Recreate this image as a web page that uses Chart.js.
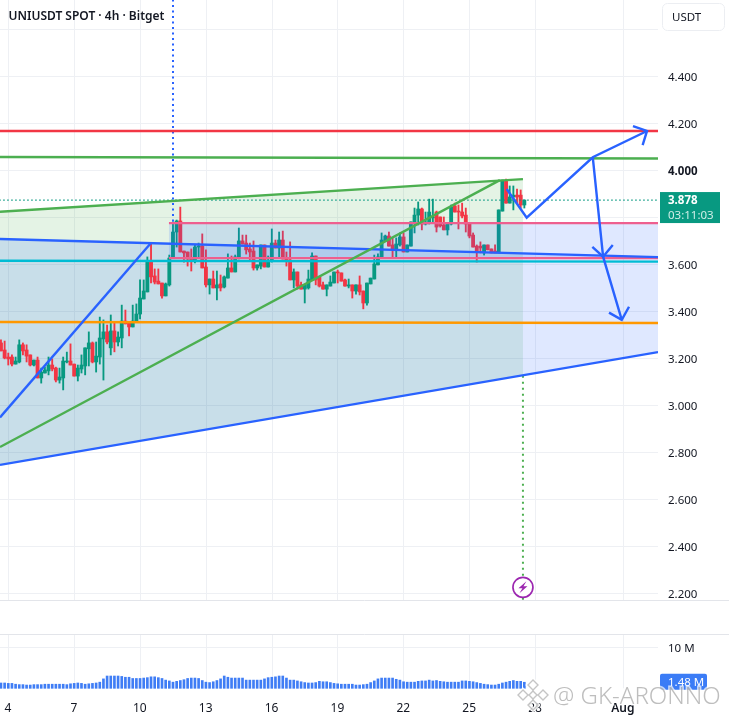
<!DOCTYPE html>
<html><head><meta charset="utf-8">
<style>html,body{margin:0;padding:0;background:#fff}canvas{display:block}</style>
<script src="https://cdn.jsdelivr.net/npm/chart.js@4"></script>
</head><body>
<canvas id="c" width="729" height="722"></canvas>
<script>
const title = "UNIUSDT SPOT · 4h · Bitget";
const currency = "USDT";
const lastPrice = "3.878";
const countdown = "03:11:03";
const lastVolume = "1.48 M";
const watermark = "@ GK-ARONNO";
const xTickDays = [4,7,10,13,16,19,22,25,28,32];
const xTickLabels = {32:"Aug"};
const priceTicks = [2.2,2.4,2.6,2.8,3.0,3.2,3.4,3.6,3.8,4.0,4.2,4.4,4.6];
const hiddenPriceLabels = [3.8,4.6];
const firstCandleDay = 3.68;
const candlesPerDay = 6;

const opens = [3.265,3.235,3.205,3.205,3.175,3.184,3.257,3.235,3.214,3.171,
3.192,3.116,3.137,3.146,3.171,3.158,3.107,3.116,3.184,3.188,
3.175,3.124,3.154,3.167,3.240,3.265,3.184,3.205,3.282,3.312,
3.244,3.316,3.269,3.286,3.358,3.354,3.333,3.354,3.388,3.452,
3.482,3.614,3.550,3.528,3.520,3.465,3.512,3.626,3.737,3.784,
3.656,3.652,3.626,3.614,3.673,3.677,3.588,3.512,3.537,3.499,
3.516,3.503,3.541,3.584,3.567,3.626,3.699,3.690,3.665,3.656,
3.584,3.592,3.682,3.588,3.614,3.690,3.669,3.703,3.626,3.618,
3.533,3.567,3.512,3.494,3.499,3.533,3.635,3.546,3.512,3.494,
3.507,3.520,3.567,3.563,3.533,3.507,3.512,3.486,3.512,3.486,
3.435,3.516,3.537,3.597,3.626,3.699,3.720,3.682,3.661,3.682,
3.716,3.652,3.677,3.775,3.809,3.835,3.771,3.780,3.797,3.822,
3.801,3.767,3.746,3.771,3.848,3.826,3.822,3.809,3.775,3.724,
3.677,3.677,3.648,3.682,3.665,3.656,3.648,3.826,3.954,3.860,
3.886,3.894,3.894,3.852];
const highs = [3.278,3.273,3.222,3.214,3.205,3.278,3.265,3.257,3.214,3.192,
3.205,3.158,3.162,3.205,3.197,3.162,3.158,3.205,3.226,3.261,
3.175,3.171,3.214,3.244,3.312,3.269,3.269,3.375,3.363,3.341,
3.384,3.354,3.312,3.426,3.405,3.354,3.426,3.431,3.533,3.533,
3.631,3.690,3.580,3.580,3.520,3.520,3.639,3.780,3.788,3.843,
3.656,3.652,3.665,3.682,3.690,3.729,3.661,3.537,3.571,3.571,
3.554,3.550,3.644,3.635,3.639,3.754,3.724,3.724,3.690,3.699,
3.597,3.682,3.682,3.635,3.750,3.703,3.737,3.741,3.652,3.695,
3.580,3.567,3.524,3.512,3.575,3.648,3.635,3.546,3.524,3.512,
3.550,3.567,3.575,3.563,3.537,3.537,3.512,3.512,3.550,3.486,
3.520,3.541,3.639,3.644,3.733,3.724,3.737,3.712,3.712,3.733,
3.733,3.682,3.780,3.839,3.865,3.839,3.822,3.877,3.877,3.826,
3.801,3.801,3.775,3.852,3.860,3.852,3.860,3.839,3.775,3.733,
3.682,3.695,3.682,3.682,3.665,3.682,3.831,3.958,3.962,3.933,
3.933,3.920,3.916,3.873];
const lows = [3.231,3.197,3.171,3.167,3.175,3.180,3.214,3.184,3.167,3.167,
3.116,3.094,3.137,3.129,3.146,3.099,3.094,3.065,3.180,3.171,
3.124,3.103,3.137,3.129,3.167,3.180,3.141,3.175,3.107,3.261,
3.214,3.227,3.252,3.244,3.346,3.295,3.333,3.354,3.367,3.452,
3.482,3.520,3.516,3.516,3.456,3.465,3.507,3.626,3.673,3.652,
3.609,3.592,3.571,3.605,3.626,3.584,3.503,3.473,3.499,3.448,
3.486,3.499,3.541,3.567,3.567,3.622,3.686,3.643,3.618,3.575,
3.575,3.580,3.588,3.588,3.609,3.669,3.631,3.622,3.592,3.533,
3.499,3.494,3.494,3.435,3.494,3.533,3.512,3.503,3.494,3.465,
3.507,3.520,3.520,3.528,3.507,3.499,3.456,3.473,3.469,3.410,
3.426,3.516,3.537,3.597,3.626,3.699,3.677,3.626,3.626,3.677,
3.652,3.652,3.677,3.733,3.767,3.746,3.767,3.771,3.780,3.737,
3.758,3.746,3.724,3.767,3.822,3.750,3.797,3.737,3.712,3.673,
3.609,3.648,3.639,3.661,3.648,3.648,3.648,3.826,3.860,3.860,
3.831,3.860,3.839,3.839];
const closes = [3.231,3.201,3.197,3.175,3.188,3.257,3.231,3.209,3.171,3.192,
3.116,3.141,3.150,3.171,3.154,3.107,3.120,3.188,3.188,3.171,
3.124,3.158,3.171,3.244,3.265,3.184,3.209,3.286,3.312,3.269,
3.316,3.269,3.290,3.358,3.346,3.333,3.358,3.388,3.456,3.486,
3.614,3.546,3.524,3.516,3.465,3.516,3.626,3.737,3.784,3.652,
3.648,3.622,3.614,3.673,3.677,3.584,3.512,3.537,3.499,3.512,
3.499,3.546,3.584,3.567,3.631,3.699,3.686,3.661,3.652,3.584,
3.597,3.682,3.588,3.614,3.690,3.669,3.703,3.622,3.618,3.533,
3.567,3.507,3.494,3.512,3.537,3.635,3.533,3.507,3.494,3.512,
3.524,3.567,3.563,3.528,3.507,3.512,3.486,3.512,3.482,3.435,
3.520,3.541,3.601,3.631,3.703,3.720,3.677,3.661,3.686,3.716,
3.652,3.682,3.780,3.809,3.835,3.771,3.780,3.822,3.801,3.758,
3.763,3.746,3.775,3.843,3.822,3.822,3.805,3.771,3.720,3.673,
3.652,3.669,3.682,3.661,3.648,3.648,3.831,3.958,3.860,3.886,
3.894,3.886,3.852,3.873];
const volumes = [1.3,1.3,1.2,1.2,1.0,0.9,0.9,0.8,0.8,0.9,0.9,
0.9,1.0,1.0,1.0,1.0,1.0,1.0,0.9,1.1,1.2,
1.3,1.2,1.0,1.1,1.2,1.3,1.5,2.3,
3.0,3.0,3.0,3.0,2.9,2.7,2.7,2.4,
2.4,2.4,2.5,2.6,2.8,2.8,2.6,2.4,2.0,1.8,1.5,1.7,1.9,
2.1,2.4,2.5,2.5,2.4,1.9,1.5,1.4,1.6,
1.9,2.3,3.0,2.7,2.5,2.5,2.5,2.5,2.0,
2.0,2.0,2.0,2.0,2.3,2.6,2.7,2.8,3.0,3.0,
2.5,2.0,2.0,1.8,1.6,1.4,1.3,1.3,1.4,1.7,1.6,1.6,1.4,
1.2,1.1,1.0,1.0,1.0,1.0,0.8,0.8,0.9,1.0,1.4,1.8,
2.3,2.5,2.5,2.5,2.5,2.2,2.0,1.6,1.5,1.5,1.5,
1.7,1.8,1.8,2.0,1.8,1.9,1.7,1.6,1.5,1.5,1.5,1.5,1.8,1.8,
1.7,1.6,1.4,1.2,1.0,0.9,0.8,0.8,1.0,
1.3,1.5,1.7,1.9,1.7,1.7,1.48];

/* drawings, [day, price] */
const redLevel = [[3.6,4.167],[34,4.167]];
const greenLevel = [[3.6,4.056],[34,4.050]];
const cyanLevel = [[3.6,3.615],[34,3.611]];
const orangeLevel = [[3.6,3.354],[34,3.350]];
const lastPriceLine = [[3.6,3.873],[34,3.873]];
const wedgeTop = [[3.636,3.823],[27.45,3.962]];
const wedgeDiagonal = [[3.636,2.822],[26.40,3.958]];
const channelUpper = [[3.636,3.707],[33.6,3.630]];
const channelLower = [[3.636,2.746],[33.6,3.226]];
const greenZone = [[3.636,3.823],[27.45,3.962],[27.45,3.128],[3.636,2.746]];
const blueZone = [[3.636,3.707],[34,3.628],[34,3.235],[3.636,2.746]];
const pinkBox = [[11.33,3.775],[34,3.775],[34,3.626],[11.33,3.626]];
const blueRally = [[3.636,2.948],[10.51,3.690]];
const pathMain = [[26.71,3.920],[27.62,3.798],[30.63,4.055],[33.10,4.167]];
const headTop = [[32.46,4.188],[33.10,4.167],[32.90,4.107]];
const pathDown = [[30.63,4.055],[31.10,3.632],[31.95,3.363]];
const headMid = [[30.61,3.674],[31.10,3.632],[31.54,3.682]];
const headLow = [[31.37,3.394],[31.95,3.363],[32.28,3.419]];
const blueMarker = [[11.514,4.75],[11.514,3.78]];
const greenMarker = [[27.45,3.125],[27.45,2.17]];
const flashPoint = [[27.45,2.225]];
const paneBottomPrice = 2.17;

const UP="#089981", DOWN="#f23645", BLUE="#2962ff", GREEN="#4caf50";
const pts = a => a.map(([x,y])=>({x,y}));
const days = opens.map((_,i)=>firstCandleDay+i/candlesPerDay);
const candleColor = opens.map((o,i)=>closes[i]>=o?UP:DOWN);
const noPad = s => {s.paddingLeft=s.paddingRight=s.paddingTop=s.paddingBottom=0;};

function poly(data,fillColor,order,extra){
  return Object.assign({type:"line",data:pts(data),yAxisID:"y",xAxisID:"x",backgroundColor:fillColor,
    fill:"shape",borderWidth:0,pointRadius:0,tension:0,order},extra||{});
}
function line(data,color,width,order,dash){
  return {type:"line",data:pts(data),yAxisID:"y",xAxisID:"x",borderColor:color,borderWidth:width,
    borderDash:dash||[],fill:false,pointRadius:0,tension:0,order,borderCapStyle:"butt",borderJoinStyle:"miter"};
}

const paneGrid = {
  id:"paneGrid",
  beforeDatasetsDraw(chart){
    const {ctx,scales:{x,y,yVol}}=chart;
    ctx.save();
    ctx.lineWidth=1;
    ctx.strokeStyle="#eef0f4";
    const bottom=y.getPixelForValue(paneBottomPrice);
    xTickDays.forEach(d=>{
      const px=Math.round(x.getPixelForValue(d))+.5;
      ctx.beginPath();ctx.moveTo(px,0);ctx.lineTo(px,bottom);
      ctx.moveTo(px,yVol.top);ctx.lineTo(px,yVol.getPixelForValue(0));ctx.stroke();
    });
    ctx.strokeStyle="#e3e5ea";
    [bottom,yVol.top].forEach(py=>{
      ctx.beginPath();ctx.moveTo(0,Math.round(py)+.5);ctx.lineTo(chart.width,Math.round(py)+.5);ctx.stroke();
    });
    ctx.restore();
  }
};

const overlays = {
  id:"overlays",
  afterDraw(chart){
    const {ctx,scales:{x,y,yVol}}=chart;
    ctx.save();
    const F='"Noto Sans",sans-serif';
    ctx.textBaseline="middle";
    ctx.textAlign="left";
    ctx.fillStyle="#131722";
    ctx.font='600 12px '+F;
    ctx.fillText(title,8.5,16.5);

    // currency box
    ctx.strokeStyle="#eceef2";ctx.lineWidth=1;
    ctx.beginPath();ctx.roundRect(662.5,3.5,62,27,5);ctx.stroke();
    ctx.fillStyle="#131722";ctx.font='11.5px '+F;
    ctx.fillText(currency,672,17.5);

    // last price tag
    const py=y.getPixelForValue(closes[closes.length-1]);
    ctx.fillStyle=UP;ctx.fillRect(660,py-8,60,31);
    ctx.fillStyle="#fff";ctx.font='700 11.5px '+F;
    ctx.fillText(lastPrice,668,py+1);
    ctx.fillStyle="#cfeee7";ctx.font='11.5px '+F;
    ctx.fillText(countdown,668,py+15.5);

    // volume tag
    const vy=yVol.getPixelForValue(volumes[volumes.length-1]);
    ctx.fillStyle="#3b7cf6";
    ctx.beginPath();ctx.roundRect(660,vy-8.5,47,16,2);ctx.fill();
    ctx.fillStyle="#fff";ctx.font='11.5px '+F;
    ctx.fillText(lastVolume,668,vy);

    // flash marker
    const cx=x.getPixelForValue(flashPoint[0][0]), cy=y.getPixelForValue(flashPoint[0][1]);
    ctx.beginPath();ctx.arc(cx,cy,10,0,Math.PI*2);
    ctx.fillStyle="#fff";ctx.fill();
    ctx.strokeStyle="#9c27b0";ctx.lineWidth=1.7;ctx.stroke();
    ctx.beginPath();
    [[3.5,-6],[-4.5,1],[-.5,1],[-3.5,6],[4.5,-1],[.5,-1]].forEach(([dx,dy],i)=>{
      i?ctx.lineTo(cx+dx,cy+dy):ctx.moveTo(cx+dx,cy+dy);
    });
    ctx.closePath();ctx.fillStyle="#9c27b0";ctx.fill();

    // watermark
    const lx=533, ly=695;
    const diamond=(dx,dy,r)=>{
      ctx.beginPath();ctx.moveTo(lx+dx,ly+dy-r);ctx.lineTo(lx+dx+r,ly+dy);ctx.lineTo(lx+dx,ly+dy+r);ctx.lineTo(lx+dx-r,ly+dy);ctx.closePath();ctx.stroke();
    };
    ctx.strokeStyle="rgba(255,255,255,.85)";ctx.lineWidth=4;
    [[0,-10,5],[-10,0,5],[10,0,5],[0,10,5],[0,0,4]].forEach(d=>diamond(...d));
    ctx.strokeStyle="rgba(150,150,150,.55)";ctx.lineWidth=1.4;
    [[0,-10,5],[-10,0,5],[10,0,5],[0,10,5],[0,0,4]].forEach(d=>diamond(...d));
    ctx.font='300 24px '+F;
    ctx.textBaseline="middle";
    ctx.lineWidth=3;ctx.strokeStyle="rgba(255,255,255,.7)";
    ctx.strokeText(watermark,553,697);
    ctx.fillStyle="rgba(125,125,125,.5)";
    ctx.fillText(watermark,553,697);
    ctx.restore();
  }
};

const W=2.4;
new Chart(document.getElementById("c"),{
  data:{datasets:[
    line(headLow,BLUE,W,1),
    line(headMid,BLUE,W,1),
    line(headTop,BLUE,W,1),
    line(pathDown,BLUE,W,1),
    line(pathMain,BLUE,W,1),
    line(blueRally,BLUE,W,2),
    line(wedgeDiagonal,GREEN,W,2),
    line(wedgeTop,GREEN,W,2),
    line(channelUpper,BLUE,W,2),
    line(channelLower,BLUE,W,2),
    line(redLevel,"#f23645",W,3),
    line(greenLevel,GREEN,W,3),
    line(cyanLevel,"#00bcd4",W,3),
    line(orangeLevel,"#ff9800",W,3),
    line(blueMarker,BLUE,2,3,[2,3.5]),
    line(greenMarker,GREEN,2,3,[2,4]),
    line(lastPriceLine,UP,1.2,3,[1.5,2.5]),
    poly(pinkBox,"rgba(41,98,255,.15)",3,{borderColor:"#ee5f8f",borderWidth:2.4}),
    {type:"bar",label:"body",data:days.map((d,i)=>({x:d,y:[opens[i],closes[i]]})),yAxisID:"y",xAxisID:"x",
      backgroundColor:candleColor,barThickness:3.2,grouped:false,minBarLength:1,order:5},
    {type:"bar",label:"wick",data:days.map((d,i)=>({x:d,y:[lows[i],highs[i]]})),yAxisID:"y",xAxisID:"x",
      backgroundColor:candleColor,barThickness:1.2,grouped:false,order:6},
    {type:"bar",label:"volume",data:days.map((d,i)=>({x:d,y:volumes[i]})),yAxisID:"yVol",xAxisID:"x",
      backgroundColor:"#3f7df5",barThickness:2,grouped:false,order:6},
    poly(blueZone,"rgba(41,98,255,.15)",7),
    poly(greenZone,"rgba(76,175,80,.15)",8)
  ]},
  options:{
    responsive:false,animation:false,devicePixelRatio:1,
    layout:{padding:0},
    plugins:{legend:{display:false},tooltip:{enabled:false},title:{display:false}},
    scales:{
      x:{type:"linear",position:"bottom",min:3.636,max:33.6,offset:false,
        grid:{display:false,offset:false,drawTicks:false},border:{display:false},
        afterBuildTicks:s=>{s.ticks=xTickDays.map(v=>({value:v}));},
        afterFit:s=>{s.height=32;noPad(s);},
        ticks:{autoSkip:false,maxRotation:0,padding:11,color:"#131722",
          font:c=>({family:'"Noto Sans",sans-serif',size:12,weight:c.tick&&xTickLabels[c.tick.value]?"600":"400"}),
          callback:v=>xTickLabels[v]||String(v)}},
      y:{type:"linear",position:"right",stack:"panes",stackWeight:634,min:2.0264,max:4.7243,
        grid:{color:"#eef0f4",drawTicks:false},border:{display:false},
        afterBuildTicks:s=>{s.ticks=priceTicks.map(v=>({value:v}));},
        afterFit:s=>{s.width=71;noPad(s);},
        ticks:{padding:10,labelOffset:2,color:"#131722",autoSkip:false,
          font:c=>({family:'"Noto Sans",sans-serif',size:11.5,weight:c.tick&&c.tick.value===4?"700":"400"}),
          callback:v=>hiddenPriceLabels.includes(v)?"":v.toFixed(3)}},
      yVol:{type:"linear",position:"right",stack:"panes",stackWeight:56,min:-0.41,max:13.24,
        grid:{color:"#eef0f4",drawTicks:false},border:{display:false},
        afterBuildTicks:s=>{s.ticks=[{value:10}];},
        afterFit:s=>{s.width=71;noPad(s);},
        ticks:{padding:10,labelOffset:1,color:"#131722",autoSkip:false,font:{family:'"Noto Sans",sans-serif',size:11.5},
          callback:v=>v+" M"}}
    }
  },
  plugins:[paneGrid,overlays]
});
</script>
</body></html>
